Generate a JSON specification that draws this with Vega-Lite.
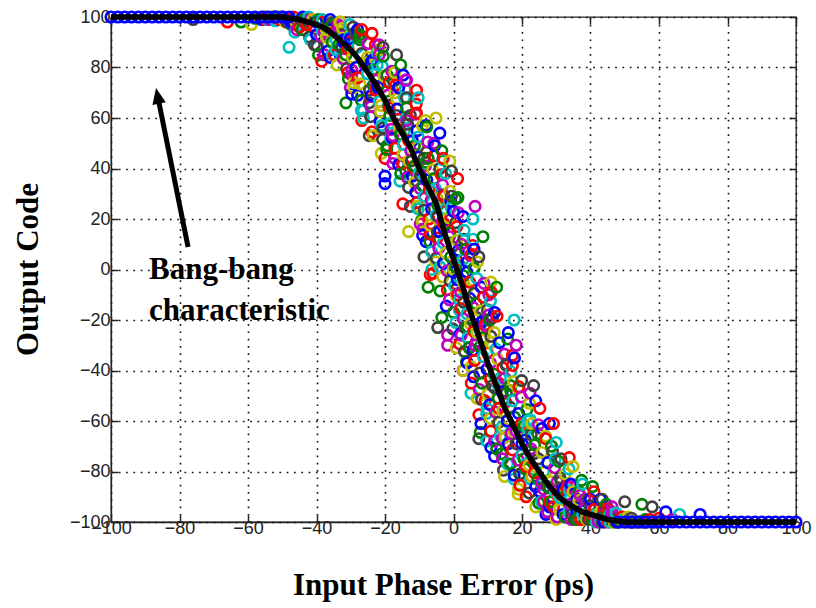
{
  "$schema": "https://vega.github.io/schema/vega-lite/v6.json",
  "width": 685,
  "height": 505,
  "autosize": "none",
  "padding": {"left": 111, "top": 17, "right": 20, "bottom": 86},
  "background": "white",
  "config": {
    "view": {"stroke": "#222", "strokeWidth": 1.3},
    "axis": {
      "domainColor": "#222",
      "domainWidth": 1.3,
      "gridColor": "#111",
      "gridDash": [1.7, 5.6],
      "gridOpacity": 1,
      "gridWidth": 1.6,
      "tickColor": "#222",
      "tickWidth": 1.5,
      "tickSize": -7,
      "labelFont": "Liberation Sans",
      "labelFontSize": 18,
      "labelColor": "#222",
      "labelFlush": false,
      "labelOverlap": false,
      "titleFont": "Liberation Serif",
      "titleFontSize": 31,
      "titleFontWeight": "bold",
      "titleColor": "#000"
    }
  },
  "resolve": {"axis": {"x": "independent", "y": "independent"}},
  "datasets": {
    "pts": [
      {"x":-56,"y":99,"c":"b"},{"x":-52,"y":100,"c":"b"},{"x":-48,"y":99,"c":"b"},{"x":-44,"y":100,"c":"b"},{"x":-40,"y":93,"c":"b"},{"x":-36,"y":99,"c":"b"},{"x":-32,"y":91,"c":"b"},{"x":-28,"y":69,"c":"b"},{"x":-24,"y":82,"c":"b"},{"x":-20,"y":37,"c":"b"},{"x":-16,"y":72,"c":"b"},{"x":-12,"y":37,"c":"b"},{"x":-8,"y":57,"c":"b"},{"x":-4,"y":15,"c":"b"},{"x":0,"y":23,"c":"b"},{"x":4,"y":-37,"c":"b"},{"x":8,"y":-21,"c":"b"},{"x":12,"y":-74,"c":"b"},{"x":16,"y":-25,"c":"b"},{"x":20,"y":-69,"c":"b"},{"x":24,"y":-86,"c":"b"},{"x":28,"y":-61,"c":"b"},{"x":32,"y":-97,"c":"b"},{"x":36,"y":-91,"c":"b"},{"x":40,"y":-98,"c":"b"},{"x":44,"y":-96,"c":"b"},{"x":48,"y":-100,"c":"b"},{"x":52,"y":-100,"c":"b"},{"x":56,"y":-100,"c":"b"},
      {"x":-55.4,"y":100,"c":"g"},{"x":-51.4,"y":100,"c":"g"},{"x":-47.4,"y":97,"c":"g"},{"x":-43.4,"y":99,"c":"g"},{"x":-39.4,"y":85,"c":"g"},{"x":-35.4,"y":97,"c":"g"},{"x":-31.4,"y":85,"c":"g"},{"x":-27.4,"y":93,"c":"g"},{"x":-23.4,"y":73,"c":"g"},{"x":-19.4,"y":77,"c":"g"},{"x":-15.4,"y":38,"c":"g"},{"x":-11.4,"y":49,"c":"g"},{"x":-7.4,"y":-7,"c":"g"},{"x":-3.4,"y":47,"c":"g"},{"x":0.6,"y":1,"c":"g"},{"x":4.6,"y":-31,"c":"g"},{"x":8.6,"y":13,"c":"g"},{"x":12.6,"y":-71,"c":"g"},{"x":16.6,"y":-46,"c":"g"},{"x":20.6,"y":-75,"c":"g"},{"x":24.6,"y":-65,"c":"g"},{"x":28.6,"y":-92,"c":"g"},{"x":32.6,"y":-90,"c":"g"},{"x":36.6,"y":-88,"c":"g"},{"x":40.6,"y":-99,"c":"g"},{"x":44.6,"y":-93,"c":"g"},{"x":48.6,"y":-100,"c":"g"},{"x":52.6,"y":-100,"c":"g"},{"x":56.6,"y":-100,"c":"g"},
      {"x":-54.8,"y":100,"c":"r"},{"x":-50.8,"y":99,"c":"r"},{"x":-46.8,"y":100,"c":"r"},{"x":-42.8,"y":97,"c":"r"},{"x":-38.8,"y":98,"c":"r"},{"x":-34.8,"y":85,"c":"r"},{"x":-30.8,"y":90,"c":"r"},{"x":-26.8,"y":59,"c":"r"},{"x":-22.8,"y":89,"c":"r"},{"x":-18.8,"y":64,"c":"r"},{"x":-14.8,"y":42,"c":"r"},{"x":-10.8,"y":71,"c":"r"},{"x":-6.8,"y":-2,"c":"r"},{"x":-2.8,"y":29,"c":"r"},{"x":1.2,"y":-10,"c":"r"},{"x":5.2,"y":6,"c":"r"},{"x":9.2,"y":-52,"c":"r"},{"x":13.2,"y":-45,"c":"r"},{"x":17.2,"y":-38,"c":"r"},{"x":21.2,"y":-78,"c":"r"},{"x":25.2,"y":-55,"c":"r"},{"x":29.2,"y":-94,"c":"r"},{"x":33.2,"y":-90,"c":"r"},{"x":37.2,"y":-99,"c":"r"},{"x":41.2,"y":-95,"c":"r"},{"x":45.2,"y":-100,"c":"r"},{"x":49.2,"y":-98,"c":"r"},{"x":53.2,"y":-100,"c":"r"},{"x":57.2,"y":-99,"c":"r"},
      {"x":-54.3,"y":99,"c":"c"},{"x":-50.3,"y":100,"c":"c"},{"x":-46.3,"y":94,"c":"c"},{"x":-42.3,"y":100,"c":"c"},{"x":-38.3,"y":95,"c":"c"},{"x":-34.3,"y":87,"c":"c"},{"x":-30.3,"y":97,"c":"c"},{"x":-26.3,"y":63,"c":"c"},{"x":-22.3,"y":81,"c":"c"},{"x":-18.3,"y":58,"c":"c"},{"x":-14.3,"y":68,"c":"c"},{"x":-10.3,"y":24,"c":"c"},{"x":-6.3,"y":31,"c":"c"},{"x":-2.3,"y":38,"c":"c"},{"x":1.7,"y":-16,"c":"c"},{"x":5.7,"y":20,"c":"c"},{"x":9.7,"y":-57,"c":"c"},{"x":13.7,"y":-43,"c":"c"},{"x":17.7,"y":-83,"c":"c"},{"x":21.7,"y":-63,"c":"c"},{"x":25.7,"y":-85,"c":"c"},{"x":29.7,"y":-75,"c":"c"},{"x":33.7,"y":-96,"c":"c"},{"x":37.7,"y":-85,"c":"c"},{"x":41.7,"y":-97,"c":"c"},{"x":45.7,"y":-100,"c":"c"},{"x":49.7,"y":-99,"c":"c"},{"x":53.7,"y":-100,"c":"c"},{"x":57.7,"y":-100,"c":"c"},
      {"x":-53.7,"y":99,"c":"m"},{"x":-49.7,"y":100,"c":"m"},{"x":-45.7,"y":95,"c":"m"},{"x":-41.7,"y":99,"c":"m"},{"x":-37.7,"y":94,"c":"m"},{"x":-33.7,"y":96,"c":"m"},{"x":-29.7,"y":77,"c":"m"},{"x":-25.7,"y":81,"c":"m"},{"x":-21.7,"y":85,"c":"m"},{"x":-17.7,"y":53,"c":"m"},{"x":-13.7,"y":75,"c":"m"},{"x":-9.7,"y":18,"c":"m"},{"x":-5.7,"y":32,"c":"m"},{"x":-1.7,"y":-26,"c":"m"},{"x":2.3,"y":10,"c":"m"},{"x":6.3,"y":-30,"c":"m"},{"x":10.3,"y":-10,"c":"m"},{"x":14.3,"y":-67,"c":"m"},{"x":18.3,"y":-30,"c":"m"},{"x":22.3,"y":-72,"c":"m"},{"x":26.3,"y":-92,"c":"m"},{"x":30.3,"y":-84,"c":"m"},{"x":34.3,"y":-99,"c":"m"},{"x":38.3,"y":-91,"c":"m"},{"x":42.3,"y":-99,"c":"m"},{"x":46.3,"y":-96,"c":"m"},{"x":50.3,"y":-100,"c":"m"},{"x":54.3,"y":-100,"c":"m"},{"x":58.3,"y":-100,"c":"m"},
      {"x":-53.1,"y":100,"c":"y"},{"x":-49.1,"y":98,"c":"y"},{"x":-45.1,"y":99,"c":"y"},{"x":-41.1,"y":99,"c":"y"},{"x":-37.1,"y":92,"c":"y"},{"x":-33.1,"y":98,"c":"y"},{"x":-29.1,"y":74,"c":"y"},{"x":-25.1,"y":82,"c":"y"},{"x":-21.1,"y":46,"c":"y"},{"x":-17.1,"y":70,"c":"y"},{"x":-13.1,"y":43,"c":"y"},{"x":-9.1,"y":57,"c":"y"},{"x":-5.1,"y":3,"c":"y"},{"x":-1.1,"y":43,"c":"y"},{"x":2.9,"y":-5,"c":"y"},{"x":6.9,"y":-51,"c":"y"},{"x":10.9,"y":-29,"c":"y"},{"x":14.9,"y":-82,"c":"y"},{"x":18.9,"y":-47,"c":"y"},{"x":22.9,"y":-82,"c":"y"},{"x":26.9,"y":-66,"c":"y"},{"x":30.9,"y":-90,"c":"y"},{"x":34.9,"y":-88,"c":"y"},{"x":38.9,"y":-99,"c":"y"},{"x":42.9,"y":-97,"c":"y"},{"x":46.9,"y":-100,"c":"y"},{"x":50.9,"y":-98,"c":"y"},{"x":54.9,"y":-100,"c":"y"},{"x":58.9,"y":-100,"c":"y"},
      {"x":-52.6,"y":100,"c":"k"},{"x":-48.6,"y":98,"c":"k"},{"x":-44.6,"y":99,"c":"k"},{"x":-40.6,"y":89,"c":"k"},{"x":-36.6,"y":97,"c":"k"},{"x":-32.6,"y":88,"c":"k"},{"x":-28.6,"y":93,"c":"k"},{"x":-24.6,"y":66,"c":"k"},{"x":-20.6,"y":88,"c":"k"},{"x":-16.6,"y":61,"c":"k"},{"x":-12.6,"y":25,"c":"k"},{"x":-8.6,"y":44,"c":"k"},{"x":-4.6,"y":-23,"c":"k"},{"x":-0.6,"y":29,"c":"k"},{"x":3.4,"y":-23,"c":"k"},{"x":7.4,"y":5,"c":"k"},{"x":11.4,"y":-46,"c":"k"},{"x":15.4,"y":-38,"c":"k"},{"x":19.4,"y":-81,"c":"k"},{"x":23.4,"y":-73,"c":"k"},{"x":27.4,"y":-96,"c":"k"},{"x":31.4,"y":-75,"c":"k"},{"x":35.4,"y":-94,"c":"k"},{"x":39.4,"y":-99,"c":"k"},{"x":43.4,"y":-91,"c":"k"},{"x":47.4,"y":-100,"c":"k"},{"x":51.4,"y":-100,"c":"k"},{"x":55.4,"y":-100,"c":"k"},{"x":59.4,"y":-100,"c":"k"},
      {"x":-40,"y":98,"c":"b"},{"x":-36,"y":84,"c":"b"},{"x":-32,"y":90,"c":"b"},{"x":-28,"y":95,"c":"b"},{"x":-24,"y":69,"c":"b"},{"x":-20,"y":34,"c":"b"},{"x":-16,"y":72,"c":"b"},{"x":-12,"y":51,"c":"b"},{"x":-8,"y":11,"c":"b"},{"x":-4,"y":54,"c":"b"},{"x":0,"y":-1,"c":"b"},{"x":4,"y":3,"c":"b"},{"x":8,"y":-61,"c":"b"},{"x":12,"y":-17,"c":"b"},{"x":16,"y":-69,"c":"b"},{"x":20,"y":-66,"c":"b"},{"x":24,"y":-52,"c":"b"},{"x":28,"y":-94,"c":"b"},{"x":32,"y":-87,"c":"b"},{"x":36,"y":-96,"c":"b"},{"x":40,"y":-91,"c":"b"},{"x":44,"y":-100,"c":"b"},
      {"x":-39.4,"y":99,"c":"g"},{"x":-35.4,"y":90,"c":"g"},{"x":-31.4,"y":66,"c":"g"},{"x":-27.4,"y":91,"c":"g"},{"x":-23.4,"y":79,"c":"g"},{"x":-19.4,"y":49,"c":"g"},{"x":-15.4,"y":81,"c":"g"},{"x":-11.4,"y":41,"c":"g"},{"x":-7.4,"y":44,"c":"g"},{"x":-3.4,"y":-19,"c":"g"},{"x":0.6,"y":28,"c":"g"},{"x":4.6,"y":-31,"c":"g"},{"x":8.6,"y":-27,"c":"g"},{"x":12.6,"y":-7,"c":"g"},{"x":16.6,"y":-77,"c":"g"},{"x":20.6,"y":-62,"c":"g"},{"x":24.6,"y":-83,"c":"g"},{"x":28.6,"y":-70,"c":"g"},{"x":32.6,"y":-98,"c":"g"},{"x":36.6,"y":-98,"c":"g"},{"x":40.6,"y":-86,"c":"g"},{"x":44.6,"y":-97,"c":"g"},
      {"x":-38.8,"y":98,"c":"r"},{"x":-34.8,"y":94,"c":"r"},{"x":-30.8,"y":78,"c":"r"},{"x":-26.8,"y":95,"c":"r"},{"x":-22.8,"y":71,"c":"r"},{"x":-18.8,"y":74,"c":"r"},{"x":-14.8,"y":26,"c":"r"},{"x":-10.8,"y":62,"c":"r"},{"x":-6.8,"y":14,"c":"r"},{"x":-2.8,"y":18,"c":"r"},{"x":1.2,"y":36,"c":"r"},{"x":5.2,"y":-45,"c":"r"},{"x":9.2,"y":-22,"c":"r"},{"x":13.2,"y":-55,"c":"r"},{"x":17.2,"y":-34,"c":"r"},{"x":21.2,"y":-90,"c":"r"},{"x":25.2,"y":-88,"c":"r"},{"x":29.2,"y":-61,"c":"r"},{"x":33.2,"y":-86,"c":"r"},{"x":37.2,"y":-99,"c":"r"},{"x":41.2,"y":-98,"c":"r"},{"x":45.2,"y":-95,"c":"r"},
      {"x":-38.3,"y":99,"c":"c"},{"x":-34.3,"y":91,"c":"c"},{"x":-30.3,"y":92,"c":"c"},{"x":-26.3,"y":60,"c":"c"},{"x":-22.3,"y":86,"c":"c"},{"x":-18.3,"y":52,"c":"c"},{"x":-14.3,"y":55,"c":"c"},{"x":-10.3,"y":68,"c":"c"},{"x":-6.3,"y":0,"c":"c"},{"x":-2.3,"y":24,"c":"c"},{"x":1.7,"y":-12,"c":"c"},{"x":5.7,"y":12,"c":"c"},{"x":9.7,"y":-68,"c":"c"},{"x":13.7,"y":-66,"c":"c"},{"x":17.7,"y":-20,"c":"c"},{"x":21.7,"y":-60,"c":"c"},{"x":25.7,"y":-92,"c":"c"},{"x":29.7,"y":-88,"c":"c"},{"x":33.7,"y":-79,"c":"c"},{"x":37.7,"y":-97,"c":"c"},{"x":41.7,"y":-100,"c":"c"},{"x":45.7,"y":-97,"c":"c"},
      {"x":-37.7,"y":85,"c":"m"},{"x":-33.7,"y":97,"c":"m"},{"x":-29.7,"y":79,"c":"m"},{"x":-25.7,"y":81,"c":"m"},{"x":-21.7,"y":89,"c":"m"},{"x":-17.7,"y":42,"c":"m"},{"x":-13.7,"y":59,"c":"m"},{"x":-9.7,"y":32,"c":"m"},{"x":-5.7,"y":50,"c":"m"},{"x":-1.7,"y":-30,"c":"m"},{"x":2.3,"y":-26,"c":"m"},{"x":6.3,"y":25,"c":"m"},{"x":10.3,"y":-18,"c":"m"},{"x":14.3,"y":-75,"c":"m"},{"x":18.3,"y":-64,"c":"m"},{"x":22.3,"y":-49,"c":"m"},{"x":26.3,"y":-87,"c":"m"},{"x":30.3,"y":-98,"c":"m"},{"x":34.3,"y":-86,"c":"m"},{"x":38.3,"y":-95,"c":"m"},{"x":42.3,"y":-100,"c":"m"},{"x":46.3,"y":-94,"c":"m"},
      {"x":-37.1,"y":95,"c":"y"},{"x":-33.1,"y":98,"c":"y"},{"x":-29.1,"y":72,"c":"y"},{"x":-25.1,"y":84,"c":"y"},{"x":-21.1,"y":65,"c":"y"},{"x":-17.1,"y":78,"c":"y"},{"x":-13.1,"y":15,"c":"y"},{"x":-9.1,"y":19,"c":"y"},{"x":-5.1,"y":60,"c":"y"},{"x":-1.1,"y":27,"c":"y"},{"x":2.9,"y":-40,"c":"y"},{"x":6.9,"y":-25,"c":"y"},{"x":10.9,"y":-5,"c":"y"},{"x":14.9,"y":-63,"c":"y"},{"x":18.9,"y":-89,"c":"y"},{"x":22.9,"y":-61,"c":"y"},{"x":26.9,"y":-80,"c":"y"},{"x":30.9,"y":-95,"c":"y"},{"x":34.9,"y":-78,"c":"y"},{"x":38.9,"y":-97,"c":"y"},{"x":42.9,"y":-96,"c":"y"},{"x":46.9,"y":-100,"c":"y"},
      {"x":-36.6,"y":96,"c":"k"},{"x":-32.6,"y":88,"c":"k"},{"x":-28.6,"y":94,"c":"k"},{"x":-24.6,"y":53,"c":"k"},{"x":-20.6,"y":56,"c":"k"},{"x":-16.6,"y":85,"c":"k"},{"x":-12.6,"y":61,"c":"k"},{"x":-8.6,"y":5,"c":"k"},{"x":-4.6,"y":21,"c":"k"},{"x":-0.6,"y":39,"c":"k"},{"x":3.4,"y":-23,"c":"k"},{"x":7.4,"y":-67,"c":"k"},{"x":11.4,"y":-19,"c":"k"},{"x":15.4,"y":-49,"c":"k"},{"x":19.4,"y":-81,"c":"k"},{"x":23.4,"y":-46,"c":"k"},{"x":27.4,"y":-86,"c":"k"},{"x":31.4,"y":-84,"c":"k"},{"x":35.4,"y":-99,"c":"k"},{"x":39.4,"y":-91,"c":"k"},{"x":43.4,"y":-100,"c":"k"},{"x":47.4,"y":-99,"c":"k"},
      {"x":-76,"y":99,"c":"k"},{"x":-66,"y":98,"c":"r"},{"x":-62,"y":98,"c":"g"},{"x":-59,"y":97,"c":"y"},{"x":-48,"y":88,"c":"c"},{"x":-45,"y":96,"c":"r"},{"x":-42,"y":92,"c":"k"},{"x":-3,"y":44,"c":"r"},{"x":6,"y":8,"c":"b"},{"x":-20,"y":44,"c":"r"},{"x":11,"y":-9,"c":"r"},{"x":41,"y":-88,"c":"r"},{"x":50,"y":-92,"c":"k"},{"x":55,"y":-93,"c":"g"},{"x":58,"y":-94,"c":"k"},{"x":62,"y":-96,"c":"b"},{"x":66,"y":-97,"c":"c"},{"x":72,"y":-97,"c":"b"},{"x":24,"y":-94,"c":"y"},{"x":27,"y":-97,"c":"b"},{"x":30,"y":-99,"c":"y"},{"x":-14,"y":75,"c":"m"},
      {"x":-47.3,"y":97.5,"c":"b"},{"x":-44.2,"y":95,"c":"g"},{"x":-41,"y":96.5,"c":"r"},{"x":-38.3,"y":94.5,"c":"c"},{"x":-35.6,"y":97,"c":"m"},{"x":-32.4,"y":95.5,"c":"y"},{"x":-29.3,"y":96,"c":"k"},
      {"x":-41.8,"y":91,"c":"c"},{"x":-38.7,"y":92.5,"c":"m"},{"x":-35.5,"y":90.5,"c":"y"},{"x":-32.8,"y":93,"c":"k"},{"x":-30.1,"y":91.5,"c":"b"},{"x":-26.9,"y":92,"c":"g"},{"x":-23.8,"y":93.5,"c":"r"},
      {"x":-39.8,"y":88.5,"c":"k"},{"x":-36.7,"y":86.5,"c":"b"},{"x":-33.5,"y":89,"c":"g"},{"x":-30.8,"y":87.5,"c":"r"},{"x":-28.1,"y":88,"c":"c"},{"x":-24.9,"y":89.5,"c":"m"},{"x":-21.8,"y":87,"c":"y"},
      {"x":-38.5,"y":82.5,"c":"r"},{"x":-35.4,"y":85,"c":"c"},{"x":-32.2,"y":83.5,"c":"m"},{"x":-29.5,"y":84,"c":"y"},{"x":-26.8,"y":85.5,"c":"k"},{"x":-23.6,"y":83,"c":"b"},{"x":-20.5,"y":84.5,"c":"g"},
      {"x":-34,"y":81,"c":"y"},{"x":-31.2,"y":79.5,"c":"k"},{"x":-28.4,"y":80,"c":"b"},{"x":-26,"y":81.5,"c":"g"},{"x":-23.6,"y":79,"c":"r"},{"x":-20.8,"y":80.5,"c":"c"},{"x":-18,"y":78.5,"c":"m"},
      {"x":-30.7,"y":75.5,"c":"g"},{"x":-27.9,"y":76,"c":"r"},{"x":-25.1,"y":77.5,"c":"c"},{"x":-22.7,"y":75,"c":"m"},{"x":-20.3,"y":76.5,"c":"y"},{"x":-17.5,"y":74.5,"c":"k"},{"x":-14.7,"y":77,"c":"b"},
      {"x":-30.1,"y":72,"c":"m"},{"x":-27.3,"y":73.5,"c":"y"},{"x":-24.5,"y":71,"c":"k"},{"x":-22.1,"y":72.5,"c":"b"},{"x":-19.7,"y":70.5,"c":"g"},{"x":-16.9,"y":73,"c":"r"},{"x":-14.1,"y":71.5,"c":"c"},
      {"x":-29.7,"y":69.5,"c":"b"},{"x":-26.9,"y":67,"c":"g"},{"x":-24.1,"y":68.5,"c":"r"},{"x":-21.7,"y":66.5,"c":"c"},{"x":-19.3,"y":69,"c":"m"},{"x":-16.5,"y":67.5,"c":"y"},{"x":-13.7,"y":68,"c":"k"},
      {"x":-26.9,"y":63,"c":"c"},{"x":-24.1,"y":64.5,"c":"m"},{"x":-21.3,"y":62.5,"c":"y"},{"x":-18.9,"y":65,"c":"k"},{"x":-16.5,"y":63.5,"c":"b"},{"x":-13.7,"y":64,"c":"g"},{"x":-10.9,"y":65.5,"c":"r"},
      {"x":-24.2,"y":60.5,"c":"k"},{"x":-21.4,"y":58.5,"c":"b"},{"x":-18.6,"y":61,"c":"g"},{"x":-16.2,"y":59.5,"c":"r"},{"x":-13.8,"y":60,"c":"c"},{"x":-11,"y":61.5,"c":"m"},{"x":-8.2,"y":59,"c":"y"},
      {"x":-23.8,"y":54.5,"c":"r"},{"x":-21,"y":57,"c":"c"},{"x":-18.2,"y":55.5,"c":"m"},{"x":-15.8,"y":56,"c":"y"},{"x":-13.4,"y":57.5,"c":"k"},{"x":-10.6,"y":55,"c":"b"},{"x":-7.8,"y":56.5,"c":"g"},
      {"x":-23.5,"y":53,"c":"y"},{"x":-20.7,"y":51.5,"c":"k"},{"x":-17.9,"y":52,"c":"b"},{"x":-15.5,"y":53.5,"c":"g"},{"x":-13.1,"y":51,"c":"r"},{"x":-10.3,"y":52.5,"c":"c"},{"x":-7.5,"y":50.5,"c":"m"},
      {"x":-19.5,"y":47.5,"c":"g"},{"x":-17.1,"y":48,"c":"r"},{"x":-14.6,"y":49.5,"c":"c"},{"x":-12.5,"y":47,"c":"m"},{"x":-10.4,"y":48.5,"c":"y"},{"x":-7.9,"y":46.5,"c":"k"},{"x":-5.5,"y":49,"c":"b"},
      {"x":-17.2,"y":44,"c":"m"},{"x":-14.8,"y":45.5,"c":"y"},{"x":-12.3,"y":43,"c":"k"},{"x":-10.2,"y":44.5,"c":"b"},{"x":-8.1,"y":42.5,"c":"g"},{"x":-5.6,"y":45,"c":"r"},{"x":-3.2,"y":43.5,"c":"c"},
      {"x":-16,"y":41.5,"c":"b"},{"x":-13.9,"y":39,"c":"g"},{"x":-11.8,"y":40.5,"c":"r"},{"x":-10,"y":38.5,"c":"c"},{"x":-8.2,"y":41,"c":"m"},{"x":-6.1,"y":39.5,"c":"y"},{"x":-4,"y":40,"c":"k"},
      {"x":-15.6,"y":35,"c":"c"},{"x":-13.5,"y":36.5,"c":"m"},{"x":-11.4,"y":34.5,"c":"y"},{"x":-9.6,"y":37,"c":"k"},{"x":-7.8,"y":35.5,"c":"b"},{"x":-5.7,"y":36,"c":"g"},{"x":-3.6,"y":37.5,"c":"r"},
      {"x":-13.1,"y":32.5,"c":"k"},{"x":-11,"y":30.5,"c":"b"},{"x":-8.9,"y":33,"c":"g"},{"x":-7.1,"y":31.5,"c":"r"},{"x":-5.3,"y":32,"c":"c"},{"x":-3.2,"y":33.5,"c":"m"},{"x":-1.1,"y":31,"c":"y"},
      {"x":-10.7,"y":26.5,"c":"r"},{"x":-8.6,"y":29,"c":"c"},{"x":-6.5,"y":27.5,"c":"m"},{"x":-4.7,"y":28,"c":"y"},{"x":-2.9,"y":29.5,"c":"k"},{"x":-0.8,"y":27,"c":"b"},{"x":1.3,"y":28.5,"c":"g"},
      {"x":-10.6,"y":25,"c":"y"},{"x":-8.5,"y":23.5,"c":"k"},{"x":-6.4,"y":24,"c":"b"},{"x":-4.6,"y":25.5,"c":"g"},{"x":-2.8,"y":23,"c":"r"},{"x":-0.7,"y":24.5,"c":"c"},{"x":1.4,"y":22.5,"c":"m"},
      {"x":-9.3,"y":19.5,"c":"g"},{"x":-7.2,"y":20,"c":"r"},{"x":-5.1,"y":21.5,"c":"c"},{"x":-3.3,"y":19,"c":"m"},{"x":-1.5,"y":20.5,"c":"y"},{"x":0.6,"y":18.5,"c":"k"},{"x":2.8,"y":21,"c":"b"},
      {"x":-8.9,"y":16,"c":"m"},{"x":-6.8,"y":17.5,"c":"y"},{"x":-4.7,"y":15,"c":"k"},{"x":-2.9,"y":16.5,"c":"b"},{"x":-1.1,"y":14.5,"c":"g"},{"x":1,"y":17,"c":"r"},{"x":3.1,"y":15.5,"c":"c"},
      {"x":-9,"y":13.5,"c":"b"},{"x":-6.9,"y":11,"c":"g"},{"x":-4.8,"y":12.5,"c":"r"},{"x":-3,"y":10.5,"c":"c"},{"x":-1.2,"y":13,"c":"m"},{"x":0.9,"y":11.5,"c":"y"},{"x":3,"y":12,"c":"k"},
      {"x":-6.4,"y":7,"c":"c"},{"x":-4.3,"y":8.5,"c":"m"},{"x":-2.2,"y":6.5,"c":"y"},{"x":-0.4,"y":9,"c":"k"},{"x":1.4,"y":7.5,"c":"b"},{"x":3.5,"y":8,"c":"g"},{"x":5.6,"y":9.5,"c":"r"},
      {"x":-5,"y":4.5,"c":"k"},{"x":-2.9,"y":2.5,"c":"b"},{"x":-0.8,"y":5,"c":"g"},{"x":1,"y":3.5,"c":"r"},{"x":2.8,"y":4,"c":"c"},{"x":4.9,"y":5.5,"c":"m"},{"x":7,"y":3,"c":"y"},
      {"x":-6,"y":-1.5,"c":"r"},{"x":-3.9,"y":1,"c":"c"},{"x":-1.8,"y":-0.5,"c":"m"},{"x":0,"y":0,"c":"y"},{"x":1.8,"y":1.5,"c":"k"},{"x":3.9,"y":-1,"c":"b"},{"x":6,"y":0.5,"c":"g"},
      {"x":-3.1,"y":-3,"c":"y"},{"x":-1,"y":-4.5,"c":"k"},{"x":1.1,"y":-4,"c":"b"},{"x":2.9,"y":-2.5,"c":"g"},{"x":4.7,"y":-5,"c":"r"},{"x":6.8,"y":-3.5,"c":"c"},{"x":8.9,"y":-5.5,"c":"m"},
      {"x":-3.9,"y":-8.5,"c":"g"},{"x":-1.8,"y":-8,"c":"r"},{"x":0.3,"y":-6.5,"c":"c"},{"x":2.1,"y":-9,"c":"m"},{"x":3.9,"y":-7.5,"c":"y"},{"x":6,"y":-9.5,"c":"k"},{"x":8.1,"y":-7,"c":"b"},
      {"x":-1.2,"y":-12,"c":"m"},{"x":0.9,"y":-10.5,"c":"y"},{"x":3,"y":-13,"c":"k"},{"x":4.8,"y":-11.5,"c":"b"},{"x":6.6,"y":-13.5,"c":"g"},{"x":8.7,"y":-11,"c":"r"},{"x":10.8,"y":-12.5,"c":"c"},
      {"x":-2.1,"y":-14.5,"c":"b"},{"x":0,"y":-17,"c":"g"},{"x":2.1,"y":-15.5,"c":"r"},{"x":3.9,"y":-17.5,"c":"c"},{"x":5.7,"y":-15,"c":"m"},{"x":7.8,"y":-16.5,"c":"y"},{"x":9.9,"y":-16,"c":"k"},
      {"x":0.7,"y":-21,"c":"c"},{"x":2.8,"y":-19.5,"c":"m"},{"x":4.9,"y":-21.5,"c":"y"},{"x":6.7,"y":-19,"c":"k"},{"x":8.5,"y":-20.5,"c":"b"},{"x":10.6,"y":-20,"c":"g"},{"x":12.7,"y":-18.5,"c":"r"},
      {"x":-0.2,"y":-23.5,"c":"k"},{"x":2,"y":-25.5,"c":"b"},{"x":4.1,"y":-23,"c":"g"},{"x":5.9,"y":-24.5,"c":"r"},{"x":7.7,"y":-24,"c":"c"},{"x":9.8,"y":-22.5,"c":"m"},{"x":11.9,"y":-25,"c":"y"},
      {"x":1.8,"y":-29.5,"c":"r"},{"x":4.2,"y":-27,"c":"c"},{"x":6.7,"y":-28.5,"c":"m"},{"x":8.8,"y":-28,"c":"y"},{"x":10.9,"y":-26.5,"c":"k"},{"x":13.4,"y":-29,"c":"b"},{"x":15.8,"y":-27.5,"c":"g"},
      {"x":0.8,"y":-31,"c":"y"},{"x":3.2,"y":-32.5,"c":"k"},{"x":5.7,"y":-32,"c":"b"},{"x":7.8,"y":-30.5,"c":"g"},{"x":9.9,"y":-33,"c":"r"},{"x":12.4,"y":-31.5,"c":"c"},{"x":14.8,"y":-33.5,"c":"m"},
      {"x":3.8,"y":-36.5,"c":"g"},{"x":6.2,"y":-36,"c":"r"},{"x":8.7,"y":-34.5,"c":"c"},{"x":10.8,"y":-37,"c":"m"},{"x":12.9,"y":-35.5,"c":"y"},{"x":15.4,"y":-37.5,"c":"k"},{"x":17.8,"y":-35,"c":"b"},
      {"x":2.8,"y":-40,"c":"m"},{"x":5.2,"y":-38.5,"c":"y"},{"x":7.7,"y":-41,"c":"k"},{"x":9.8,"y":-39.5,"c":"b"},{"x":11.9,"y":-41.5,"c":"g"},{"x":14.4,"y":-39,"c":"r"},{"x":16.8,"y":-40.5,"c":"c"},
      {"x":5.9,"y":-42.5,"c":"b"},{"x":8.3,"y":-45,"c":"g"},{"x":10.8,"y":-43.5,"c":"r"},{"x":12.9,"y":-45.5,"c":"c"},{"x":15,"y":-43,"c":"m"},{"x":17.5,"y":-44.5,"c":"y"},{"x":19.9,"y":-44,"c":"k"},
      {"x":5.1,"y":-49,"c":"c"},{"x":7.5,"y":-47.5,"c":"m"},{"x":10,"y":-49.5,"c":"y"},{"x":12.1,"y":-47,"c":"k"},{"x":14.2,"y":-48.5,"c":"b"},{"x":16.7,"y":-48,"c":"g"},{"x":19.1,"y":-46.5,"c":"r"},
      {"x":8.2,"y":-51.5,"c":"k"},{"x":10.6,"y":-53.5,"c":"b"},{"x":13.1,"y":-51,"c":"g"},{"x":15.2,"y":-52.5,"c":"r"},{"x":17.3,"y":-52,"c":"c"},{"x":19.8,"y":-50.5,"c":"m"},{"x":22.2,"y":-53,"c":"y"},
      {"x":7.4,"y":-57.5,"c":"r"},{"x":9.8,"y":-55,"c":"c"},{"x":12.3,"y":-56.5,"c":"m"},{"x":14.4,"y":-56,"c":"y"},{"x":16.5,"y":-54.5,"c":"k"},{"x":19,"y":-57,"c":"b"},{"x":21.4,"y":-55.5,"c":"g"},
      {"x":10.8,"y":-59,"c":"y"},{"x":13.2,"y":-60.5,"c":"k"},{"x":15.7,"y":-60,"c":"b"},{"x":17.8,"y":-58.5,"c":"g"},{"x":19.9,"y":-61,"c":"r"},{"x":22.4,"y":-59.5,"c":"c"},{"x":24.8,"y":-61.5,"c":"m"},
      {"x":7.8,"y":-64.5,"c":"g"},{"x":10.9,"y":-64,"c":"r"},{"x":14.1,"y":-62.5,"c":"c"},{"x":16.8,"y":-65,"c":"m"},{"x":19.5,"y":-63.5,"c":"y"},{"x":22.7,"y":-65.5,"c":"k"},{"x":25.8,"y":-63,"c":"b"},
      {"x":12,"y":-68,"c":"m"},{"x":15.1,"y":-66.5,"c":"y"},{"x":18.3,"y":-69,"c":"k"},{"x":21,"y":-67.5,"c":"b"},{"x":23.7,"y":-69.5,"c":"g"},{"x":26.9,"y":-67,"c":"r"},{"x":30,"y":-68.5,"c":"c"},
      {"x":10.9,"y":-70.5,"c":"b"},{"x":14,"y":-73,"c":"g"},{"x":17.2,"y":-71.5,"c":"r"},{"x":19.9,"y":-73.5,"c":"c"},{"x":22.6,"y":-71,"c":"m"},{"x":25.8,"y":-72.5,"c":"y"},{"x":28.9,"y":-72,"c":"k"},
      {"x":15.8,"y":-77,"c":"c"},{"x":18.9,"y":-75.5,"c":"m"},{"x":22.1,"y":-77.5,"c":"y"},{"x":24.8,"y":-75,"c":"k"},{"x":27.5,"y":-76.5,"c":"b"},{"x":30.7,"y":-76,"c":"g"},{"x":33.8,"y":-74.5,"c":"r"},
      {"x":14.6,"y":-79.5,"c":"k"},{"x":17.7,"y":-81.5,"c":"b"},{"x":20.9,"y":-79,"c":"g"},{"x":23.6,"y":-80.5,"c":"r"},{"x":26.3,"y":-80,"c":"c"},{"x":29.5,"y":-78.5,"c":"m"},{"x":32.6,"y":-81,"c":"y"},
      {"x":19.4,"y":-85.5,"c":"r"},{"x":22.5,"y":-83,"c":"c"},{"x":25.7,"y":-84.5,"c":"m"},{"x":28.4,"y":-84,"c":"y"},{"x":31.1,"y":-82.5,"c":"k"},{"x":34.3,"y":-85,"c":"b"},{"x":37.4,"y":-83.5,"c":"g"},
      {"x":19,"y":-87,"c":"y"},{"x":22.1,"y":-88.5,"c":"k"},{"x":25.3,"y":-88,"c":"b"},{"x":28,"y":-86.5,"c":"g"},{"x":30.7,"y":-89,"c":"r"},{"x":33.9,"y":-87.5,"c":"c"},{"x":37,"y":-89.5,"c":"m"},
      {"x":24.9,"y":-92.5,"c":"g"},{"x":28,"y":-92,"c":"r"},{"x":31.2,"y":-90.5,"c":"c"},{"x":33.9,"y":-93,"c":"m"},{"x":36.6,"y":-91.5,"c":"y"},{"x":39.8,"y":-93.5,"c":"k"},{"x":42.9,"y":-91,"c":"b"},
      {"x":27.5,"y":-96,"c":"m"},{"x":31,"y":-94.5,"c":"y"},{"x":34.5,"y":-97,"c":"k"},{"x":37.5,"y":-95.5,"c":"b"},{"x":40.5,"y":-97.5,"c":"g"},{"x":44,"y":-95,"c":"r"},{"x":47.5,"y":-96.5,"c":"c"},
      {"x":-58,"y":99.5,"c":"g"},{"x":-55,"y":99,"c":"r"},{"x":-52,"y":98.5,"c":"c"},{"x":-49,"y":99,"c":"m"},{"x":-46,"y":98,"c":"y"},{"x":-43,"y":98.5,"c":"k"},
      {"x":36,"y":-99,"c":"g"},{"x":40,"y":-98.5,"c":"r"},{"x":43,"y":-99.5,"c":"c"},{"x":46,"y":-98,"c":"m"},{"x":49,"y":-99,"c":"y"},{"x":52,"y":-98.5,"c":"k"},{"x":56,"y":-99,"c":"g"},{"x":60,"y":-98.5,"c":"r"},{"x":64,"y":-99,"c":"m"}
    ],
    "flat": [
      {"x":-100,"y":100},{"x":-98,"y":100},{"x":-96,"y":100},{"x":-94,"y":100},{"x":-92,"y":100},{"x":-90,"y":100},{"x":-88,"y":100},{"x":-86,"y":100},{"x":-84,"y":100},{"x":-82,"y":100},{"x":-80,"y":100},{"x":-78,"y":100},{"x":-76,"y":100},{"x":-74,"y":100},{"x":-72,"y":100},{"x":-70,"y":100},{"x":-68,"y":100},{"x":-66,"y":100},{"x":-64,"y":100},{"x":-62,"y":100},{"x":-60,"y":100},{"x":-58,"y":100},{"x":-56,"y":100},{"x":-54,"y":100},{"x":-52,"y":100},{"x":-50,"y":100},{"x":-48,"y":100},
      {"x":48,"y":-100},{"x":50,"y":-100},{"x":52,"y":-100},{"x":54,"y":-100},{"x":56,"y":-100},{"x":58,"y":-100},{"x":60,"y":-100},{"x":62,"y":-100},{"x":64,"y":-100},{"x":66,"y":-100},{"x":68,"y":-100},{"x":70,"y":-100},{"x":72,"y":-100},{"x":74,"y":-100},{"x":76,"y":-100},{"x":78,"y":-100},{"x":80,"y":-100},{"x":82,"y":-100},{"x":84,"y":-100},{"x":86,"y":-100},{"x":88,"y":-100},{"x":90,"y":-100},{"x":92,"y":-100},{"x":94,"y":-100},{"x":96,"y":-100},{"x":98,"y":-100},{"x":100,"y":-100}
    ],
    "curve": [
      {"x":-100,"y":100},{"x":-50,"y":100},{"x":-45,"y":99},{"x":-40,"y":97},{"x":-37.5,"y":95.5},{"x":-35,"y":93},{"x":-32.5,"y":90},{"x":-30,"y":87},{"x":-27.5,"y":83},{"x":-25,"y":78},{"x":-22.5,"y":73},{"x":-20,"y":67},{"x":-17.5,"y":60},{"x":-15,"y":54},{"x":-12.5,"y":48},{"x":-10,"y":40},{"x":-7.5,"y":33},{"x":-5,"y":26},{"x":-2.5,"y":14},{"x":0,"y":4},{"x":2.5,"y":-6},{"x":5,"y":-17},{"x":7.5,"y":-27},{"x":10,"y":-37},{"x":12.5,"y":-46},{"x":15,"y":-55},{"x":17.5,"y":-62},{"x":20,"y":-69},{"x":22.5,"y":-75},{"x":25,"y":-80},{"x":27.5,"y":-85},{"x":30,"y":-89},{"x":32.5,"y":-92},{"x":35,"y":-94},{"x":37.5,"y":-96},{"x":40,"y":-97},{"x":45,"y":-99},{"x":50,"y":-100},{"x":100,"y":-100}
    ]
  },
  "layer": [
    {
      "data": {"name": "pts"},
      "mark": {"type": "point", "shape": "circle", "filled": false, "size": 110, "strokeWidth": 2.6, "opacity": 1},
      "encoding": {
        "x": {
          "field": "x", "type": "quantitative",
          "scale": {"domain": [-100, 100], "nice": false, "zero": false},
          "axis": {
            "orient": "bottom",
            "values": [-100, -80, -60, -40, -20, 0, 20, 40, 60, 80, 100],
            "title": "Input Phase Error (ps)",
            "titleX": 332, "titleY": 63, "titleBaseline": "middle", "titleAnchor": "middle",
            "labelPadding": 4
          }
        },
        "y": {
          "field": "y", "type": "quantitative",
          "scale": {"domain": [-100, 100], "nice": false, "zero": false},
          "axis": {
            "orient": "left",
            "values": [-100, -80, -60, -40, -20, 0, 20, 40, 60, 80, 100],
            "title": "Output Code",
            "titleX": -83, "titleY": 252, "titleBaseline": "middle", "titleAnchor": "middle",
            "labelPadding": 8
          }
        },
        "color": {
          "field": "c", "type": "nominal", "legend": null,
          "scale": {"domain": ["b", "g", "r", "c", "m", "y", "k"], "range": ["#0000ff", "#008000", "#ff0000", "#00bfbf", "#bf00bf", "#bfbf00", "#404040"]}
        },
        "order": {"field": "x", "type": "quantitative"}
      }
    },
    {
      "data": {"name": "flat"},
      "mark": {"type": "point", "shape": "circle", "filled": false, "size": 110, "strokeWidth": 2.6, "color": "#0000ff", "opacity": 1},
      "encoding": {
        "x": {"field": "x", "type": "quantitative", "axis": null},
        "y": {"field": "y", "type": "quantitative", "axis": null}
      }
    },
    {
      "data": {"name": "curve"},
      "mark": {"type": "line", "color": "#000", "strokeWidth": 5.5},
      "encoding": {
        "x": {"field": "x", "type": "quantitative", "axis": {"orient": "top", "values": [-100, -80, -60, -40, -20, 0, 20, 40, 60, 80, 100], "labels": false, "grid": false, "domain": false, "title": null}},
        "y": {"field": "y", "type": "quantitative", "axis": {"orient": "right", "values": [-100, -80, -60, -40, -20, 0, 20, 40, 60, 80, 100], "labels": false, "grid": false, "domain": false, "title": null}}
      }
    },
    {
      "data": {"values": [{"x": -77.5, "y": 8.9, "x2": -86.4, "y2": 68.8}]},
      "mark": {"type": "rule", "color": "#000", "strokeWidth": 5, "strokeCap": "butt"},
      "encoding": {
        "x": {"field": "x", "type": "quantitative", "axis": null},
        "y": {"field": "y", "type": "quantitative", "axis": null},
        "x2": {"field": "x2"},
        "y2": {"field": "y2"}
      }
    },
    {
      "data": {"values": [{"x": -86.4, "y": 68.8}]},
      "mark": {"type": "point", "shape": "M0,-1L0.85,1L-0.85,1Z", "filled": true, "color": "#000", "size": 256, "angle": 348.6, "opacity": 1},
      "encoding": {
        "x": {"field": "x", "type": "quantitative", "axis": null},
        "y": {"field": "y", "type": "quantitative", "axis": null}
      }
    },
    {
      "data": {"values": [{"x": -88.9, "y": 0, "t": "Bang-bang"}, {"x": -88.9, "y": -16.5, "t": "characteristic"}]},
      "mark": {"type": "text", "align": "left", "baseline": "middle", "font": "Liberation Serif", "fontWeight": "bold", "fontSize": 31, "color": "#000"},
      "encoding": {
        "x": {"field": "x", "type": "quantitative", "axis": null},
        "y": {"field": "y", "type": "quantitative", "axis": null},
        "text": {"field": "t"}
      }
    }
  ]
}
